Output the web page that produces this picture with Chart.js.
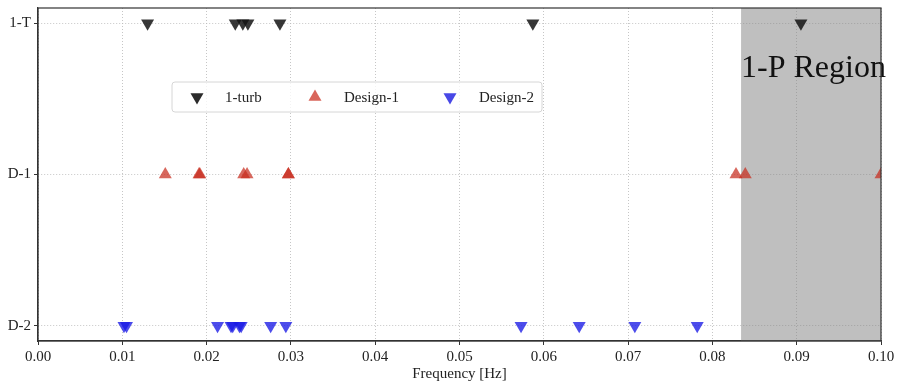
<!DOCTYPE html>
<html>
<head>
<meta charset="utf-8">
<script src="https://cdn.jsdelivr.net/npm/chart.js@4"></script>
<style>
  html, body { margin: 0; padding: 0; background: #fff; }
  #wrap { width: 898px; height: 383px; }
</style>
</head>
<body>
<div id="wrap"><canvas id="freqChart"></canvas></div>
<script>
// rangées de l'axe y (bas -> haut)
const rowLabels = ["D-2", "D-1", "1-T"];

// fréquences [Hz]
const turbFreqs = [0.0130, 0.0234, 0.0243, 0.0249, 0.0287, 0.0587, 0.0905];
const design1Freqs = [0.0151, 0.0191, 0.0192, 0.0244, 0.0248, 0.0297, 0.0297, 0.0828, 0.0839, 0.1000];
const design2Freqs = [0.0102, 0.0105, 0.0213, 0.0229, 0.0231, 0.0239, 0.0241, 0.0276, 0.0294, 0.0573, 0.0642, 0.0708, 0.0782];

const xTicks = [0, 0.01, 0.02, 0.03, 0.04, 0.05, 0.06, 0.07, 0.08, 0.09, 0.10];
const regionStart = 0.0834;
const regionEnd = 0.10;

const FONT = "'Liberation Serif', 'DejaVu Serif', serif";
const legendColors = ["#2b2b2b", "#d9665b", "#4848e6"];

function toPoints(freqs, row) {
    return freqs.map(f => ({ x: f, y: row }));
}

// zone grise + texte + cadre + légende
const extras = {
    id: "extras",
    beforeDatasetsDraw(chart) {
        const { ctx, chartArea, scales } = chart;
        const x0 = scales.x.getPixelForValue(regionStart);
        const x1 = scales.x.getPixelForValue(regionEnd);
        ctx.save();
        ctx.fillStyle = "rgba(128,128,128,0.5)";
        ctx.fillRect(x0, chartArea.top, x1 - x0, chartArea.bottom - chartArea.top);
        ctx.restore();
    },
    afterDatasetsDraw(chart) {
        const { ctx, chartArea, scales } = chart;
        ctx.save();
        // texte de la zone
        ctx.fillStyle = "#111";
        ctx.font = "32px " + FONT;
        ctx.textBaseline = "alphabetic";
        ctx.textAlign = "left";
        ctx.fillText("1-P Region", scales.x.getPixelForValue(regionStart), chartArea.top + 69);

        // cadre
        ctx.strokeStyle = "#333";
        ctx.lineWidth = 1.2;
        ctx.strokeRect(chartArea.left, chartArea.top, chartArea.right - chartArea.left, chartArea.bottom - chartArea.top);

        // légende
        const lx = chartArea.left + 134, ly = chartArea.top + 74, lw = 370, lh = 30;
        ctx.beginPath();
        ctx.roundRect(lx, ly, lw, lh, 3);
        ctx.fillStyle = "rgba(255,255,255,0.8)";
        ctx.fill();
        ctx.strokeStyle = "#d6d6d6";
        ctx.lineWidth = 1;
        ctx.stroke();
        const offsets = [[25, 53], [143, 172], [278, 307]];
        chart.data.datasets.forEach((ds, i) => {
            const cy = ly + lh / 2;
            ctx.fillStyle = legendColors[i];
            Chart.helpers.drawPoint(ctx, {
                pointStyle: "triangle",
                radius: 7.5,
                rotation: ds.rotation,
                borderWidth: 0
            }, lx + offsets[i][0], cy);
            ctx.fillStyle = "#222";
            ctx.font = "15px " + FONT;
            ctx.textBaseline = "middle";
            ctx.fillText(ds.label, lx + offsets[i][1], cy + 1);
        });
        ctx.restore();
    }
};

const gridCommon = {
    color: "#b8b8b8",
    lineWidth: 0.8,
    tickColor: "#333",
    tickLength: 4,
    tickBorderDash: [],
    tickWidth: 1
};

new Chart(document.getElementById("freqChart"), {
    type: "scatter",
    data: {
        datasets: [{
            label: "1-turb",
            data: toPoints(turbFreqs, 2),
            backgroundColor: "rgba(20,20,20,0.85)",
            rotation: 180
        }, {
            label: "Design-1",
            data: toPoints(design1Freqs, 1),
            backgroundColor: "rgba(200,45,30,0.72)",
            rotation: 0
        }, {
            label: "Design-2",
            data: toPoints(design2Freqs, 0),
            backgroundColor: "rgba(25,25,230,0.78)",
            rotation: 180
        }]
    },
    options: {
        responsive: true,
        maintainAspectRatio: false,
        animation: false,
        layout: { padding: { top: 8, right: 17, left: 0, bottom: 0 } },
        elements: {
            point: { pointStyle: "triangle", radius: 7.5, borderWidth: 0, hoverRadius: 7.5 }
        },
        plugins: {
            legend: { display: false },
            tooltip: { enabled: false }
        },
        scales: {
            x: {
                type: "linear",
                min: 0,
                max: 0.1,
                afterBuildTicks(scale) { scale.ticks = xTicks.map(v => ({ value: v })); },
                afterFit(scale) { scale.height = 42; },
                grid: gridCommon,
                border: { display: true, color: "#333", width: 1.2, dash: [1, 2] },
                ticks: {
                    color: "#222",
                    padding: 3,
                    maxRotation: 0,
                    font: { family: FONT, size: 15 },
                    callback: v => v.toFixed(2)
                },
                title: {
                    display: true,
                    text: "Frequency [Hz]",
                    color: "#222",
                    padding: { top: 0, bottom: 0 },
                    font: { family: FONT, size: 15 }
                }
            },
            y: {
                type: "linear",
                min: -0.1,
                max: 2.1,
                afterBuildTicks(scale) { scale.ticks = rowLabels.map((_, i) => ({ value: i })); },
                afterFit(scale) {
                    scale.width = 38;
                    scale.paddingTop = 0;
                    scale.paddingBottom = 0;
                },
                grid: gridCommon,
                border: { display: true, color: "#333", width: 1.2, dash: [1, 2] },
                ticks: {
                    color: "#222",
                    padding: 3,
                    font: { family: FONT, size: 15 },
                    callback: v => rowLabels[v]
                }
            }
        }
    },
    plugins: [extras]
});
</script>
</body>
</html>
